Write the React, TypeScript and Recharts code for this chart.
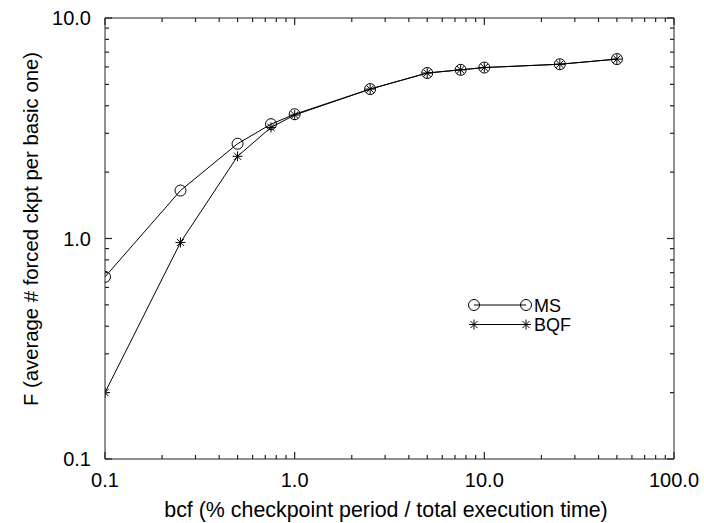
import { ComposedChart, Label, Legend, Line, XAxis, YAxis } from "recharts";

const FONT = "'Liberation Sans', Arial, Helvetica, sans-serif";

// bcf values (% checkpoint period / total execution time)
const bcf = [0.1, 0.25, 0.5, 0.75, 1.0, 2.5, 5, 7.5, 10, 25, 50];
// average # forced ckpt per basic one
const msValues = [0.67, 1.65, 2.69, 3.3, 3.66, 4.76, 5.63, 5.82, 5.96, 6.17, 6.51];
const bqfValues = [0.2, 0.96, 2.36, 3.19, 3.63, 4.76, 5.63, 5.82, 5.96, 6.17, 6.51];

const xMajor = [0.1, 1, 10, 100];
const yMajor = [0.1, 1, 10];
const minorSteps = [2, 3, 4, 5, 6, 7, 8, 9];

const seriesNames = ["MS", "BQF"];

function withMinors(majors: number[]): number[] {
  const out: number[] = [];
  majors.forEach((m, i) => {
    out.push(m);
    if (i < majors.length - 1) minorSteps.forEach((s) => out.push(+(m * s).toPrecision(3)));
  });
  return out;
}

const xTicks = withMinors(xMajor);
const yTicks = withMinors(yMajor);

const data = bcf.map((x, i) => ({ x, ms: msValues[i], bqf: bqfValues[i] }));

const isMajor = (list: number[], v: number) => list.some((m) => Math.abs(m - v) < 1e-9);
const fmt = (v: number) => v.toFixed(1);

const INK = "#000";
const FRAME = "#222";

// ticks point inward, like the original gnuplot-style frame
function BottomTick(props: any) {
  const { x, y, payload } = props;
  const major = isMajor(xMajor, payload.value);
  return (
    <g>
      <path d={`M${x},${y}V${y - (major ? 7 : 4)}`} stroke={FRAME} strokeWidth={1.2} fill="none" />
      {major && (
        <text x={x} y={y + 27.5} textAnchor="middle" fontSize={20} fontFamily={FONT} fill={INK}>
          {fmt(payload.value)}
        </text>
      )}
    </g>
  );
}

function TopTick(props: any) {
  const { x, y, payload } = props;
  const major = isMajor(xMajor, payload.value);
  return <path d={`M${x},${y}V${y + (major ? 7 : 4)}`} stroke={FRAME} strokeWidth={1.2} fill="none" />;
}

function LeftTick(props: any) {
  const { x, y, payload } = props;
  const major = isMajor(yMajor, payload.value);
  return (
    <g>
      <path d={`M${x},${y}H${x + (major ? 7 : 4)}`} stroke={FRAME} strokeWidth={1.2} fill="none" />
      {major && (
        <text x={x - 14} y={y + 7} textAnchor="end" fontSize={20} fontFamily={FONT} fill={INK}>
          {fmt(payload.value)}
        </text>
      )}
    </g>
  );
}

function RightTick(props: any) {
  const { x, y, payload } = props;
  const major = isMajor(yMajor, payload.value);
  return <path d={`M${x},${y}H${x - (major ? 7 : 4)}`} stroke={FRAME} strokeWidth={1.2} fill="none" />;
}

function CircleDot(props: any) {
  const { cx, cy } = props;
  if (cx == null || cy == null) return null;
  return <circle cx={cx} cy={cy} r={5.5} fill="none" stroke={INK} strokeWidth={1} />;
}

function StarDot(props: any) {
  const { cx, cy } = props;
  if (cx == null || cy == null) return null;
  const r = 5;
  const d = r * 0.72;
  return (
    <g stroke={INK} strokeWidth={1}>
      <line x1={cx - r} x2={cx + r} y1={cy} y2={cy} />
      <line x1={cx} x2={cx} y1={cy - r} y2={cy + r} />
      <line x1={cx - d} x2={cx + d} y1={cy - d} y2={cy + d} />
      <line x1={cx - d} x2={cx + d} y1={cy + d} y2={cy - d} />
    </g>
  );
}

function LegendBox() {
  const rows = [
    { name: seriesNames[0], Dot: CircleDot },
    { name: seriesNames[1], Dot: StarDot },
  ];
  return (
    <svg width={130} height={44} style={{ display: "block" }}>
      {rows.map((r, i) => {
        const cy = 10 + i * 19.5;
        return (
          <g key={r.name}>
            <line x1={8} x2={60} y1={cy} y2={cy} stroke={INK} />
            <r.Dot cx={8} cy={cy} />
            <r.Dot cx={60} cy={cy} />
            <text x={68} y={cy + 6.5} fontSize={18} fontFamily={FONT} fill={INK}>
              {r.name}
            </text>
          </g>
        );
      })}
    </svg>
  );
}

export default function App() {
  return (
    <div style={{ position: "absolute", left: 0, top: 0, width: 704, height: 523, background: "#fff" }}>
      <ComposedChart
        width={704}
        height={523}
        data={data}
        margin={{ top: 17, right: 29, bottom: 0, left: 0 }}
      >
        <XAxis
          dataKey="x"
          type="number"
          scale="log"
          domain={[0.1, 100]}
          allowDataOverflow
          ticks={xTicks}
          interval={0}
          tickSize={0}
          tickMargin={0}
          tick={<BottomTick />}
          tickLine={false}
          height={64}
          axisLine={{ stroke: FRAME }}
        >
          <Label
            content={() => (
              <text x={386} y={517} textAnchor="middle" fontSize={21.4} fontFamily={FONT} fill={INK}>
                bcf (% checkpoint period / total execution time)
              </text>
            )}
          />
        </XAxis>
        <XAxis
          xAxisId="top"
          dataKey="x"
          orientation="top"
          type="number"
          scale="log"
          domain={[0.1, 100]}
          allowDataOverflow
          ticks={xTicks}
          interval={0}
          tickSize={0}
          tickMargin={0}
          tick={<TopTick />}
          tickLine={false}
          height={1}
          axisLine={{ stroke: FRAME }}
        />
        <YAxis
          type="number"
          scale="log"
          domain={[0.1, 10]}
          allowDataOverflow
          ticks={yTicks}
          interval={0}
          tickSize={0}
          tickMargin={0}
          tick={<LeftTick />}
          tickLine={false}
          width={105}
          axisLine={{ stroke: FRAME }}
        >
          <Label
            content={() => (
              <text
                transform="translate(37.5,229) rotate(-90)"
                textAnchor="middle"
                fontSize={20.3}
                fontFamily={FONT}
                fill={INK}
              >
                F (average # forced ckpt per basic one)
              </text>
            )}
          />
        </YAxis>
        <YAxis
          yAxisId="right"
          orientation="right"
          type="number"
          scale="log"
          domain={[0.1, 10]}
          allowDataOverflow
          ticks={yTicks}
          interval={0}
          tickSize={0}
          tickMargin={0}
          tick={<RightTick />}
          tickLine={false}
          width={1}
          axisLine={{ stroke: FRAME }}
        />
        <Legend
          layout="horizontal"
          align="center"
          verticalAlign="middle"
          content={() => <LegendBox />}
          wrapperStyle={{ position: "absolute", left: 466, top: 295, width: 130, height: 44 }}
        />
        <Line
          xAxisId="top"
          yAxisId="right"
          dataKey="ms"
          stroke="none"
          dot={false}
          activeDot={false}
          legendType="none"
          isAnimationActive={false}
        />
        <Line
          name={seriesNames[0]}
          dataKey="ms"
          stroke={INK}
          strokeWidth={1}
          dot={<CircleDot />}
          activeDot={false}
          isAnimationActive={false}
        />
        <Line
          name={seriesNames[1]}
          dataKey="bqf"
          stroke={INK}
          strokeWidth={1}
          dot={<StarDot />}
          activeDot={false}
          isAnimationActive={false}
        />
      </ComposedChart>
    </div>
  );
}
